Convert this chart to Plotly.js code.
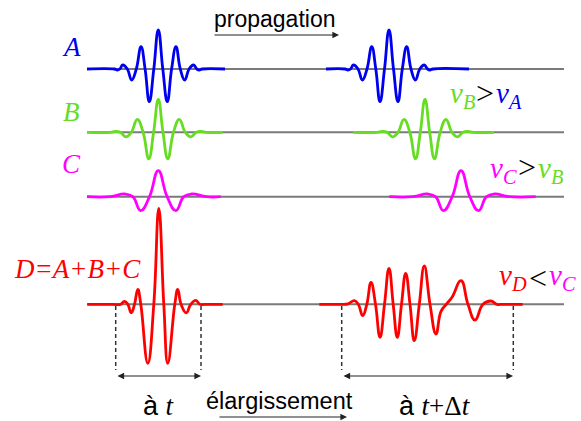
<!DOCTYPE html>
<html>
<head>
<meta charset="utf-8">
<script src="https://cdn.plot.ly/plotly-3.0.1.min.js"></script>
<style>html,body{margin:0;padding:0;background:#fff;}#chart{width:581px;height:421px;}</style>
</head>
<body>
<div id="chart"></div>
<script>
// ---- data ----
// Each wave: offset along the line from the packet centre, and height above the baseline (px units of the drawing)
const waveA_dx  = [-44, -41, -38.5, -35.6, -31, -26.6, -22, -17.3, -13.2, -9, -4.5, 0, 4.5, 9, 13.3, 17.7, 22, 26.4, 30.8, 35.2, 38.5, 41, 44];
const waveA_amp = [0, -1, 0, 4, 0, -11, 0, 22.3, 0, -32.7, 0, 39, 0, -32.7, 0, 22.3, 0, -11, 0, 4, 0, -1, 0];

const waveB_dx  = [-48, -43, -38, -32.5, -27, -21, -15.2, -9.5, -4.7, 0, 4.7, 9.5, 15.2, 21, 27, 32.5, 38, 43, 48];
const waveB_amp = [0, 0.8, 0, -4.5, 0, 13, 0, -26.5, 0, 33, 0, -26.5, 0, 13, 0, -4.5, 0, 0.8, 0];

const waveC_dx  = [-48, -33.5, -25.5, -17.6, -8.8, 0, 8.8, 17.6, 25.5, 33.5, 48];
const waveC_amp = [0, 2.7, 0, -14, 0, 26, 0, -14, 0, 2.7, 0];

const waveD0_dx  = [-46, -38.5, -34.3, -31, -27.6, -24.3, -21, -18, -11, -5, 0, 5, 9, 16, 19, 22.3, 27.4, 32, 37, 41, 46];
const waveD0_amp = [0, 0, 3, 0, -8.5, 0, 15, 0, -59, 0, 96, 0, -59, 0, 15, 0, -8.5, 0, 4, 0, 0];

const waveD1_dx  = [-80, -72, -65.7, -61.7, -57.3, -53.2, -49, -44.5, -40, -35.5, -31, -26.8, -22.7, -18.5, -14.3, -10, -5.7, -0.7, 4.3, 10, 16, 21, 26.7, 32, 41, 48, 55, 63, 70.7, 77, 83];
const waveD1_amp = [0, 0.5, 3.6, 0, -11.4, 0, 22, 0, -33, 0, 36, 0, -33, 0, 31, 0, -36.4, 0, 38.3, 0, -29.7, -7, 0.5, 7, 23.6, 0, -15.7, 0, 3.3, 0, 0];

const packetLabels = ['A', 'B', 'C', 'D=A+B+C'];
const speedLeft  = ['B', 'C', 'D'];
const speedOp    = ['>', '>', '<'];
const speedRight = ['A', 'B', 'C'];
const timeLabels  = ['à t', 'à t+Δt'];
const arrowLabels = ['propagation', 'élargissement'];

// ---- layout of the drawing ----
const COL = {A: '#0000f0', B: '#66dd22', C: '#ff00ff', D: '#ff0000', base: '#7a7a7a', ink: '#222222'};
const baseY = {A: 69, B: 132.3, C: 196.7, D: 304.3};
const lineStart = 87, lineEnd = 564;

const packets = [
  {dx: waveA_dx, amp: waveA_amp, row: 'A', c: 158.3, from: 87, to: 225},
  {dx: waveA_dx, amp: waveA_amp, row: 'A', c: 389, from: 326, to: 469},
  {dx: waveB_dx, amp: waveB_amp, row: 'B', c: 158.3, from: 87, to: 222.7},
  {dx: waveB_dx, amp: waveB_amp, row: 'B', c: 425, from: 353, to: 494},
  {dx: waveC_dx, amp: waveC_amp, row: 'C', c: 158.3, from: 87, to: 220.7},
  {dx: waveC_dx, amp: waveC_amp, row: 'C', c: 461, from: 389.3, to: 535.7},
  {dx: waveD0_dx, amp: waveD0_amp, row: 'D', c: 158.8, from: 87.3, to: 222.7},
  {dx: waveD1_dx, amp: waveD1_amp, row: 'D', c: 420, from: 319.3, to: 522.7}
];

const traces = [];
['A', 'B', 'C', 'D'].forEach(r => {
  traces.push({x: [lineStart, lineEnd], y: [baseY[r], baseY[r]], mode: 'lines',
    line: {color: COL.base, width: 2}, hoverinfo: 'skip'});
});
packets.forEach(p => {
  const xs = [p.from], ys = [baseY[p.row]];
  p.dx.forEach((d, i) => { xs.push(p.c + d); ys.push(baseY[p.row] - p.amp[i]); });
  xs.push(p.to); ys.push(baseY[p.row]);
  traces.push({x: xs, y: ys, mode: 'lines', line: {color: COL[p.row], width: 2.8, shape: 'spline', smoothing: 1.3},
    hoverinfo: 'skip'});
});

const serif = 'Liberation Serif, Times New Roman, serif';
const sans = 'Liberation Sans, Arial, sans-serif';
function timeText(lbl) {
  const rest = lbl.slice(2).replace(/t/g, '<i>t</i>');
  return 'à ' + `<span style="font-family:${serif}">${rest}</span>`;
}

const ann = [];
const rowLabelPos = [[71.5, 47], [71.3, 111.7], [71, 163.5], [77.5, 268.5]];
packetLabels.forEach((t, i) => {
  const row = ['A', 'B', 'C', 'D'][i];
  ann.push({x: rowLabelPos[i][0], y: rowLabelPos[i][1], xref: 'x', yref: 'y', text: t, showarrow: false,
    font: {family: serif, size: 27, color: COL[row], style: 'italic'}, xanchor: 'center', yanchor: 'middle'});
});
// speed relations: v_left  op  v_right, positioned around the operator
const opPos = [[485, 93], [527, 167], [537.5, 278]];
const vY = [95, 170, 276.5];
speedLeft.forEach((l, i) => {
  const r = speedRight[i];
  ann.push({x: opPos[i][0] - 8.5, y: vY[i], xref: 'x', yref: 'y', text: `v<sub>${l}</sub>`, showarrow: false,
    font: {family: serif, size: 29, color: COL[l], style: 'italic'}, xanchor: 'right', yanchor: 'middle'});
  ann.push({x: opPos[i][0], y: opPos[i][1], xref: 'x', yref: 'y', text: speedOp[i] === '>' ? '&gt;' : '&lt;',
    showarrow: false, font: {family: serif, size: 32, color: '#000'}, xanchor: 'center', yanchor: 'middle'});
  ann.push({x: opPos[i][0] + 9, y: vY[i], xref: 'x', yref: 'y', text: `v<sub>${r}</sub>`, showarrow: false,
    font: {family: serif, size: 29, color: COL[r], style: 'italic'}, xanchor: 'left', yanchor: 'middle'});
});
ann.push({x: 274.5, y: 19, xref: 'x', yref: 'y', text: arrowLabels[0], showarrow: false,
  font: {family: sans, size: 23, color: '#000'}, xanchor: 'center', yanchor: 'middle'});
ann.push({x: 279, y: 401, xref: 'x', yref: 'y', text: arrowLabels[1], showarrow: false,
  font: {family: sans, size: 23.5, color: '#000'}, xanchor: 'center', yanchor: 'middle'});
const timePos = [[158.5, 406], [435, 406]];
timeLabels.forEach((t, i) => {
  ann.push({x: timePos[i][0], y: timePos[i][1], xref: 'x', yref: 'y', text: timeText(t), showarrow: false,
    font: {family: sans, size: 27, color: '#000'}, xanchor: 'center', yanchor: 'middle'});
});
function arrow(x0, x1, y, both) {
  ann.push({x: x1, y: y, ax: x0, ay: y, xref: 'x', yref: 'y', axref: 'x', ayref: 'y', text: '', showarrow: true,
    arrowhead: 2, arrowsize: 1.1, arrowwidth: 1.2, arrowcolor: COL.ink, standoff: 0, startstandoff: 0,
    startarrowhead: 2, startarrowsize: 1.1, arrowside: both ? 'end+start' : 'end'});
}
arrow(213, 339, 35, false);
arrow(218, 347, 417, false);
arrow(116, 201, 376, true);
arrow(342, 513, 376, true);

const shapes = [115.7, 201, 341.7, 513.3].map(x => ({type: 'line', xref: 'x', yref: 'y', x0: x, x1: x, y0: 306, y1: 370,
  line: {color: '#333', width: 1.5, dash: '4px,3px'}}));

Plotly.newPlot('chart', traces, {
  width: 581, height: 421, margin: {l: 0, r: 0, t: 0, b: 0},
  paper_bgcolor: '#fff', plot_bgcolor: '#fff', showlegend: false,
  xaxis: {range: [0, 581], visible: false, fixedrange: true},
  yaxis: {range: [421, 0], visible: false, fixedrange: true},
  annotations: ann, shapes: shapes
}, {staticPlot: true});
</script>
</body>
</html>
